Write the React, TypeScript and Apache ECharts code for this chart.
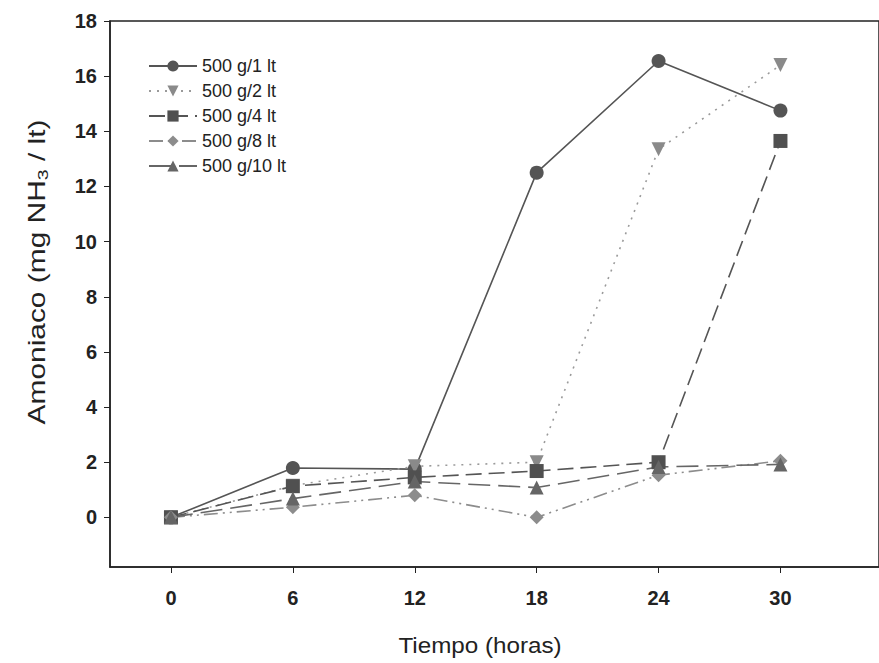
import React, { useEffect, useRef } from "react";
import * as echarts from "echarts";

const hours = [0, 6, 12, 18, 24, 30];
const seriesNames = ["500 g/1 lt", "500 g/2 lt", "500 g/4 lt", "500 g/8 lt", "500 g/10 lt"];
const s1 = [0, 1.79, 1.75, 12.5, 16.55, 14.75];
const s2 = [0, 1.15, 1.85, 2.0, 13.35, 16.4];
const s3 = [0, 1.13, 1.45, 1.68, 2.0, 13.65];
const s4 = [0, 0.37, 0.8, 0.0, 1.53, 2.05];
const s5 = [0, 0.68, 1.3, 1.08, 1.83, 1.92];
const xTicks = [0, 6, 12, 18, 24, 30];
const yTicks = [0, 2, 4, 6, 8, 10, 12, 14, 16, 18];

const FONT = "'Liberation Sans', Arial, sans-serif";

export default function App() {
  const ref = useRef<HTMLDivElement>(null);
  useEffect(() => {
    if (!ref.current) return;
    const chart = echarts.init(ref.current, null, { renderer: "svg" });
    const pair = (arr: number[]) => hours.map((h, i) => [h, arr[i]]);
    const mk = (
      name: string,
      data: number[],
      symbol: string,
      color: string,
      lineColor: string,
      type: any,
      extra: any = {}
    ) => ({
      name,
      type: "line",
      data: pair(data),
      symbol,
      symbolSize: 14,
      itemStyle: { color },
      lineStyle: { color: lineColor, width: 1.6, type },
      z: 3,
      ...extra,
    });
    chart.setOption({
      animation: false,
      backgroundColor: "#fff",
      grid: { left: 110, right: -10, top: 21, bottom: 96, show: true, borderColor: "#222", borderWidth: 1.5 },
      legend: {
        orient: "vertical",
        left: 143,
        top: 52,
        itemWidth: 48,
        itemHeight: 14,
        itemGap: 7,
        textStyle: { fontSize: 18, lineHeight: 14, fontFamily: FONT, color: "#222" },
        data: seriesNames,
      },
      xAxis: {
        type: "value",
        min: -3,
        max: 34.85,
        splitLine: { show: false },
        axisLine: { onZero: false, lineStyle: { color: "#222", width: 1.5 } },
        axisTick: { customValues: xTicks, length: 6, lineStyle: { color: "#222" } },
        axisLabel: {
          customValues: xTicks,
          margin: 21,
          fontSize: 20,
          fontWeight: "bold",
          fontFamily: FONT,
          color: "#222",
        },
      },
      yAxis: {
        type: "value",
        min: -1.8,
        max: 18,
        splitLine: { show: false },
        axisLine: { onZero: false, lineStyle: { color: "#222", width: 1.5 } },
        axisTick: { customValues: yTicks, length: 6, lineStyle: { color: "#222" } },
        axisLabel: {
          customValues: yTicks,
          margin: 13,
          fontSize: 20,
          fontWeight: "bold",
          fontFamily: FONT,
          color: "#222",
        },
      },
      graphic: [
        {
          type: "text",
          x: 37,
          y: 272,
          rotation: Math.PI / 2,
          scaleX: 1.3,
          style: {
            text: "Amoniaco (mg NH{sub|3} / lt)",
            font: `23px ${FONT}`,
            fill: "#222",
            align: "center",
            verticalAlign: "middle",
            rich: { sub: { fontSize: 15, fontFamily: FONT, fill: "#222", padding: [11, 0, 0, 0] } },
          },
        },
        {
          type: "text",
          x: 480,
          y: 645,
          scaleX: 1.1,
          style: {
            text: "Tiempo (horas)",
            font: `22px ${FONT}`,
            fill: "#222",
            align: "center",
            verticalAlign: "middle",
          },
        },
      ],
      series: [
        mk(seriesNames[0], s1, "circle", "#555", "#555", "solid"),
        mk(seriesNames[1], s2, "triangle", "#8a8a8a", "#9a9a9a", [2, 6], { symbolRotate: 180 }),
        mk(seriesNames[2], s3, "rect", "#505050", "#555", [16, 7]),
        mk(seriesNames[3], s4, "diamond", "#8c8c8c", "#8c8c8c", [14, 5, 2, 5, 2, 5]),
        mk(seriesNames[4], s5, "triangle", "#656565", "#666", [22, 8]),
      ],
    });
    return () => chart.dispose();
  }, []);
  return <div ref={ref} style={{ position: "fixed", left: 0, top: 0, width: 879, height: 663 }} />;
}
